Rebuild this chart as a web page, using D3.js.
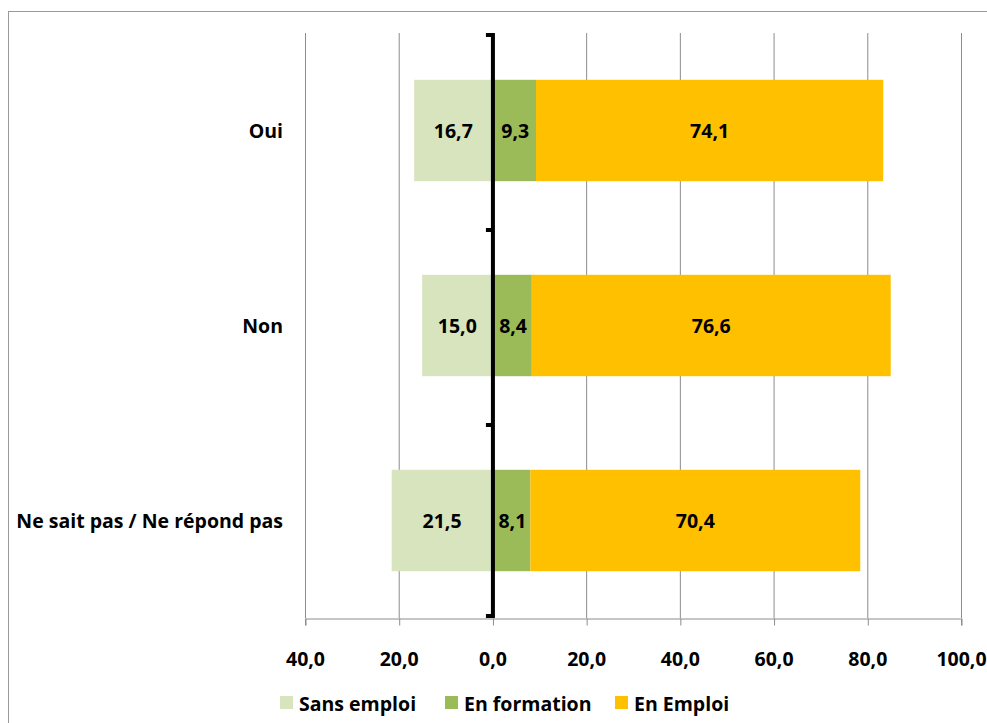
<!DOCTYPE html>
<html><head><meta charset="utf-8">
<script src="https://cdn.jsdelivr.net/npm/d3@7"></script>
<style>body{margin:0;background:#fff}svg{display:block;font-family:"Open Sans",Lato,sans-serif}</style>
</head><body><svg id="c" width="987" height="723"></svg>
<script>
const categories = ["Oui", "Non", "Ne sait pas / Ne répond pas"];
const sansEmploi = [16.7, 15.0, 21.5];
const enFormation = [9.3, 8.4, 8.1];
const enEmploi = [74.1, 76.6, 70.4];
const seriesNames = ["Sans emploi", "En formation", "En Emploi"];
const colors = ["#D7E4BD", "#9BBB59", "#FFC000"];
const xTicks = [-40, -20, 0, 20, 40, 60, 80, 100];
const FS = 19.5;

const svg = d3.select("#c");
svg.append("rect").attr("x",8.5).attr("y",11.5).attr("width",990).attr("height",730)
  .attr("fill","#fff").attr("stroke","#9a9a9a").attr("stroke-width",1);

const x = d3.scaleLinear().domain([-40,100]).range([305,961]);
const y = d3.scaleBand().domain(categories).range([33,618]).paddingInner(0.48).paddingOuter(0.24);
const fmt = v => d3.format(".1f")(Math.abs(v)).replace(".", ",");

svg.append("g").selectAll("line").data(xTicks.filter(d=>d!==0)).join("line")
  .attr("x1",d=>x(d)+0.5).attr("x2",d=>x(d)+0.5).attr("y1",33).attr("y2",618)
  .attr("stroke","#8c8c8c").attr("stroke-width",1);

const xa = svg.append("g").attr("transform","translate(0,618.5)")
  .call(d3.axisBottom(x).tickValues(xTicks).tickSize(7).tickFormat(fmt).tickPadding(27));
xa.select(".domain").attr("stroke","#8c8c8c");
xa.selectAll(".tick line").attr("stroke","#8c8c8c").attr("transform","translate(0.5,0)");
xa.selectAll("text").attr("font-size",FS).attr("font-weight","bold").attr("fill","#000").attr("font-family","'Open Sans',sans-serif");

const rows = categories.map((c,i)=>({c, s:[[-sansEmploi[i],0,sansEmploi[i]],[0,enFormation[i],enFormation[i]],[enFormation[i],enFormation[i]+enEmploi[i],enEmploi[i]]]}));
const g = svg.append("g");
rows.forEach(r=>{
  r.s.forEach((s,k)=>{
    g.append("rect").attr("x",x(s[0])).attr("y",y(r.c)).attr("width",x(s[1])-x(s[0])).attr("height",y.bandwidth())
      .attr("fill",colors[k]);
    g.append("text").attr("x",(x(s[0])+x(s[1]))/2 + (k===1?1:0)).attr("y",y(r.c)+y.bandwidth()/2)
      .attr("text-anchor","middle").attr("dominant-baseline","central")
      .attr("font-size",FS).attr("font-weight","bold").attr("fill","#000").text(fmt(s[2]));
  });
});

svg.append("g").selectAll("text").data(categories).join("text")
  .attr("x",283).attr("y",d=>y(d)+y.bandwidth()/2).attr("text-anchor","end").attr("dominant-baseline","central")
  .attr("font-size",FS).attr("font-weight","bold").attr("fill","#000").text(d=>d);

const x0 = x(0)+0.5;
svg.append("line").attr("x1",x0).attr("x2",x0).attr("y1",33).attr("y2",618).attr("stroke","#000").attr("stroke-width",4);
const tickYs = [33, 33+y.step(), 33+2*y.step(), 618];
svg.append("g").selectAll("line").data(tickYs).join("line")
  .attr("x1",x0-7).attr("x2",x0).attr("y1",(d,i)=>i===3?d-2:d+2).attr("y2",(d,i)=>i===3?d-2:d+2)
  .attr("stroke","#000").attr("stroke-width",4);

const legX = [280, 445, 615];
const lg = svg.append("g");
seriesNames.forEach((n,i)=>{
  lg.append("rect").attr("x",legX[i]).attr("y",696).attr("width",13).attr("height",13).attr("fill",colors[i]);
  lg.append("text").attr("x",legX[i]+19).attr("y",703).attr("dominant-baseline","central")
    .attr("font-size",FS).attr("font-weight","bold").attr("fill","#000").text(n);
});
</script></body></html>
